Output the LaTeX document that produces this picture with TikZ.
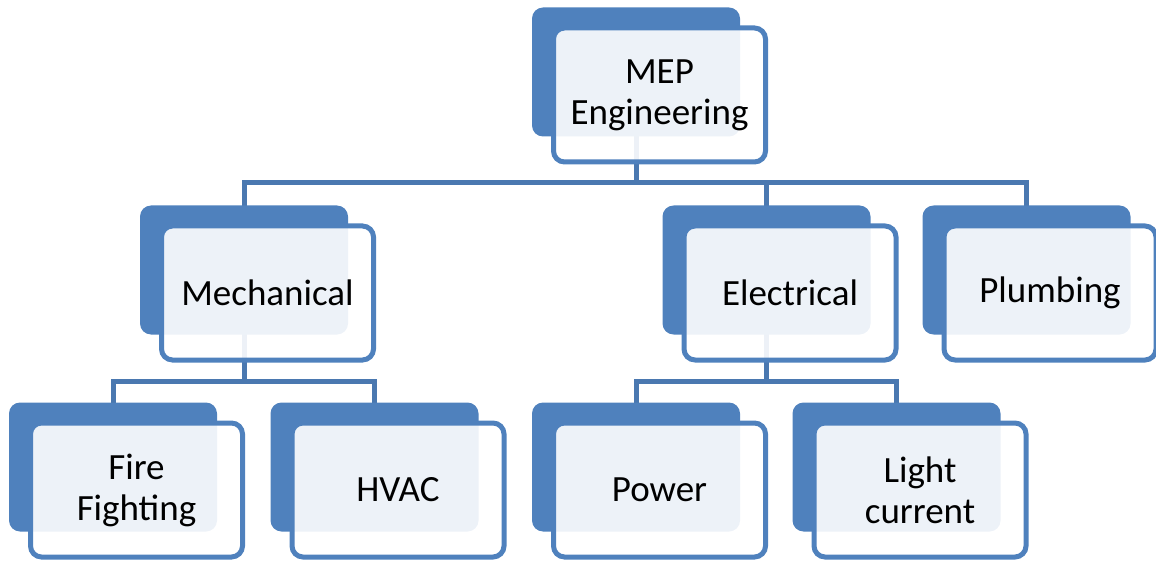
\documentclass[tikz,border=0pt]{standalone}
\usepackage{fontspec}
\setmainfont{Carlito}
\usepackage{tikz}
\usetikzlibrary{positioning,calc,backgrounds}
\definecolor{mepblue}{HTML}{4F81BD}
\definecolor{linkblue}{HTML}{4A78B0}
\tikzset{
  backbox/.style={fill=mepblue,rounded corners=11pt,minimum width=208pt,minimum height=129pt,inner sep=0pt},
  frontbox/.style={draw=mepblue,line width=5pt,fill=white,fill opacity=0.9,text opacity=1,
    rounded corners=11pt,minimum width=212pt,minimum height=134pt,inner sep=0pt,align=center,
    font=\fontsize{37}{41}\selectfont},
  connector/.style={draw=linkblue,line width=5pt}
}

\begin{document}
\begin{tikzpicture}[x=1pt,y=-1pt]
  \useasboundingbox (0,0) rectangle (1156,561);
  % back boxes
  \node[backbox] (mepb) at (636,72) {};
  \node[backbox] (mechb) at (244,270) {};
  \node[backbox] (elecb) at (766.5,270) {};
  \node[backbox] (plumb) at (1026.5,270) {};
  \node[backbox] (fireb) at (113,467) {};
  \node[backbox] (hvacb) at (374.5,467) {};
  \node[backbox] (powb) at (636,467) {};
  \node[backbox] (lightb) at (896.5,467) {};
  % front boxes
  \node[frontbox] (mep) at ([shift={(23.5,23)}]mepb.center) {MEP\\Engineering};
  \node[frontbox] (mech) at ([shift={(23.5,23)}]mechb.center) {Mechanical};
  \node[frontbox] (elec) at ([shift={(23.5,23)}]elecb.center) {Electrical};
  \node[frontbox] (plum) at ([shift={(23.5,23)}]plumb.center) {Plumbing};
  \node[frontbox] (fire) at ([shift={(23.5,23)}]fireb.center) {Fire\\Fighting};
  \node[frontbox] (hvac) at ([shift={(23.5,23)}]hvacb.center) {HVAC};
  \node[frontbox] (pow) at ([shift={(23.5,23)}]powb.center) {Power};
  \node[frontbox] (light) at ([shift={(23.5,23)}]lightb.center) {Light\\current};
  % connectors
  \coordinate (bus1) at (636,183);
  \coordinate (bus2) at (244,381);
  \coordinate (bus3) at (766.5,381);
  \begin{scope}[on background layer]
    \draw[connector] (mepb.center) -- (bus1) -| (mechb.center);
    \draw[connector] (bus1) -| (elecb.center);
    \draw[connector] (bus1) -| (plumb.center);
    \draw[connector] (mechb.center) -- (bus2) -| (fireb.center);
    \draw[connector] (bus2) -| (hvacb.center);
    \draw[connector] (elecb.center) -- (bus3) -| (powb.center);
    \draw[connector] (bus3) -| (lightb.center);
  \end{scope}
\end{tikzpicture}
\end{document}
